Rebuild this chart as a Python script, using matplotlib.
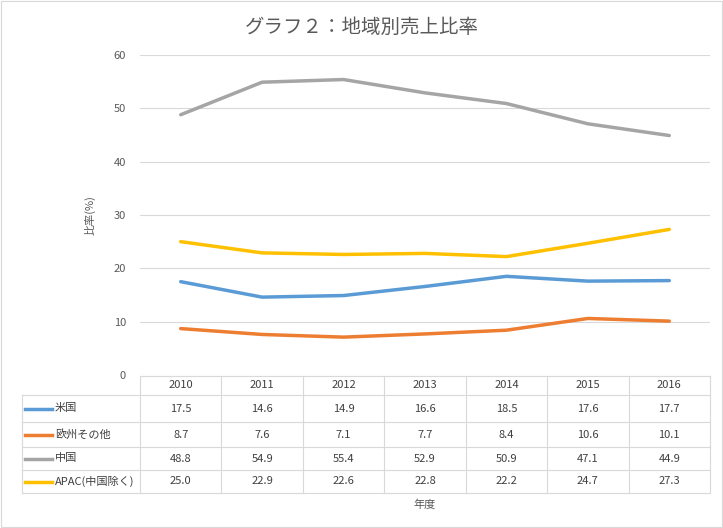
import numpy as np
import matplotlib.pyplot as plt
from matplotlib.lines import Line2D
from matplotlib.patches import Rectangle

plt.rcParams['font.family'] = ['Noto Sans CJK JP', 'DejaVu Sans']

# data
years = ['2010', '2011', '2012', '2013', '2014', '2015', '2016']
names = ['米国', '欧州その他', '中国', 'APAC(中国除く)']
us = [17.5, 14.6, 14.9, 16.6, 18.5, 17.6, 17.7]
eu = [8.7, 7.6, 7.1, 7.7, 8.4, 10.6, 10.1]
cn = [48.8, 54.9, 55.4, 52.9, 50.9, 47.1, 44.9]
apac = [25.0, 22.9, 22.6, 22.8, 22.2, 24.7, 27.3]
series = [us, eu, cn, apac]
colors = ['#5B9BD5', '#ED7D31', '#A5A5A5', '#FFC000']

W, H = 723, 528
fig = plt.figure(figsize=(W / 100, H / 100), dpi=100)

def fx(x):
    return x / W

def fy(y):
    return 1 - y / H

x0, x1, ytop, ybot = 140, 710, 55, 375
ax = fig.add_axes([fx(x0), fy(ybot), fx(x1) - fx(x0), fy(ytop) - fy(ybot)])
xs = np.arange(len(years))
for s, c in zip(series, colors):
    ax.plot(xs, s, color=c, lw=2.5, solid_capstyle='round')
ax.set_xlim(-0.5, len(years) - 0.5)
ax.set_ylim(0, 60)
ax.set_yticks(range(0, 61, 10))
ax.set_xticks([])
ax.tick_params(axis='y', length=0, labelsize=8, colors='#595959', pad=10)
ax.grid(axis='y', color='#D9D9D9', lw=0.8)
for sp in ax.spines.values():
    sp.set_visible(False)
ax.set_axisbelow(True)

# table
gc = '#D9D9D9'
def hline(y, xa, xb):
    fig.add_artist(Line2D([fx(xa), fx(xb)], [fy(y), fy(y)], color=gc, lw=0.8))
def vline(x, ya, yb):
    fig.add_artist(Line2D([fx(x), fx(x)], [fy(ya), fy(yb)], color=gc, lw=0.8))

rows = [376, 395, 422, 447, 470, 493]
cw = (x1 - x0) / len(years)
hline(rows[0], x0, x1)
for y in rows[1:]:
    hline(y, 22, x1)
for i in range(len(years) + 1):
    vline(x0 + i * cw, rows[0], rows[-1])
vline(22, rows[1], rows[-1])
for i, yr in enumerate(years):
    fig.text(fx(x0 + (i + 0.5) * cw), fy((rows[0] + rows[1]) / 2), yr,
             ha='center', va='center', fontsize=8, color='#404040')
for r, (nm, s, c) in enumerate(zip(names, series, colors)):
    yc = (rows[r + 1] + rows[r + 2]) / 2
    fig.add_artist(Line2D([fx(25), fx(52)], [fy(yc), fy(yc)], color=c, lw=2.5))
    fig.text(fx(55), fy(yc), nm, ha='left', va='center', fontsize=8, color='#404040')
    for i, v in enumerate(s):
        fig.text(fx(x0 + (i + 0.5) * cw), fy(yc), f'{v:.1f}',
                 ha='center', va='center', fontsize=8, color='#404040')

fig.text(0.5, fy(27), 'グラフ２：地域別売上比率', ha='center', va='center',
         fontsize=14, color='#595959')
fig.text(fx(90), fy(215), '比率(%)', rotation=90, ha='center', va='center',
         fontsize=8, color='#595959')
fig.text(fx(425), fy(505), '年度', ha='center', va='center', fontsize=8, color='#595959')
fig.add_artist(Rectangle((0.002, 0.002), 0.996, 0.996, transform=fig.transFigure,
                         fill=False, edgecolor='#D9D9D9', lw=0.8))

fig.savefig('out.png', dpi=100)
